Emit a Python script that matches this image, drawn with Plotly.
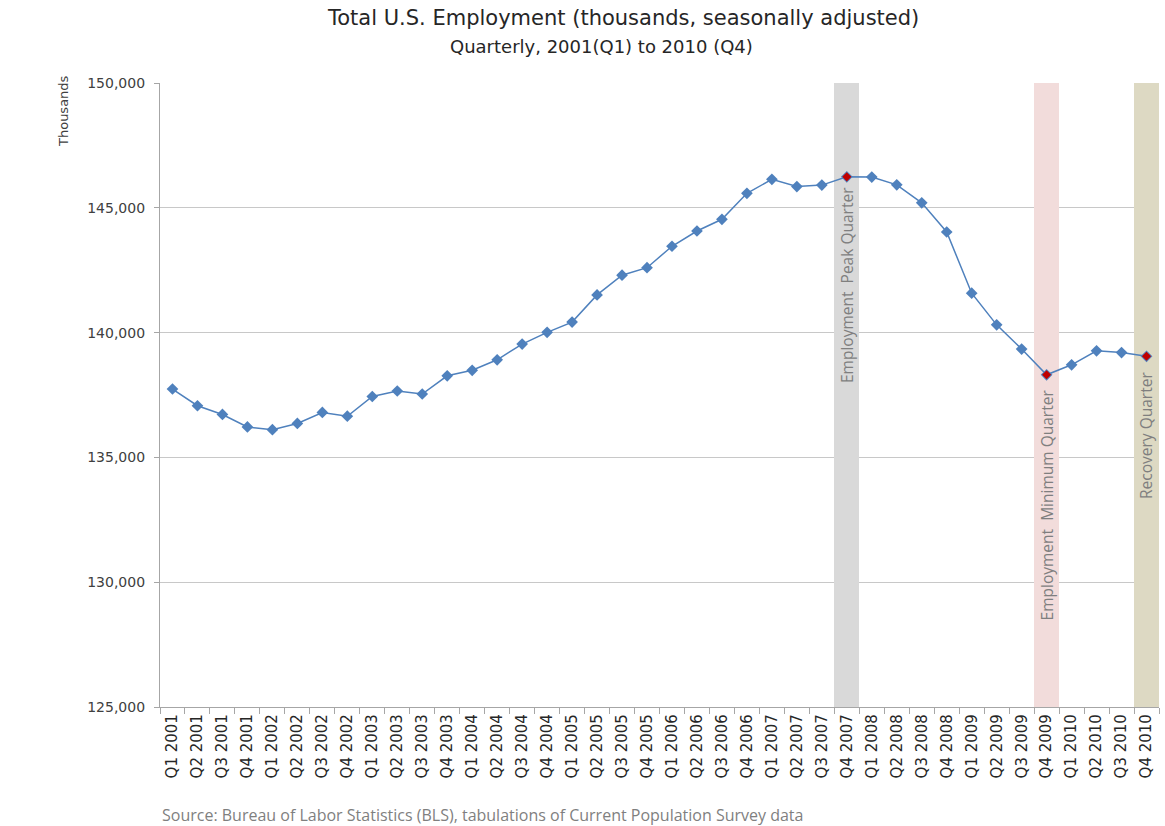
import plotly.graph_objects as go

quarters = [
    "Q1 2001", "Q2 2001", "Q3 2001", "Q4 2001",
    "Q1 2002", "Q2 2002", "Q3 2002", "Q4 2002",
    "Q1 2003", "Q2 2003", "Q3 2003", "Q4 2003",
    "Q1 2004", "Q2 2004", "Q3 2004", "Q4 2004",
    "Q1 2005", "Q2 2005", "Q3 2005", "Q4 2005",
    "Q1 2006", "Q2 2006", "Q3 2006", "Q4 2006",
    "Q1 2007", "Q2 2007", "Q3 2007", "Q4 2007",
    "Q1 2008", "Q2 2008", "Q3 2008", "Q4 2008",
    "Q1 2009", "Q2 2009", "Q3 2009", "Q4 2009",
    "Q1 2010", "Q2 2010", "Q3 2010", "Q4 2010",
]

employment = [
    137740, 137070, 136720, 136220,
    136110, 136360, 136800, 136650,
    137440, 137660, 137540, 138270,
    138490, 138910, 139540, 140010,
    140420, 141510, 142300, 142600,
    143460, 144070, 144540, 145580,
    146140, 145850, 145910, 146240,
    146230, 145920, 145200, 144030,
    141580, 140310, 139340, 138310,
    138710, 139270, 139200, 139050,
]

band_quarters = ["Q4 2007", "Q4 2009", "Q4 2010"]
band_labels = ["Employment  Peak Quarter", "Employment  Minimum Quarter", "Recovery Quarter"]
band_colors = ["#d9d9d9", "#f2dcdb", "#ddd9c3"]
label_centers = [141900, 133100, 135880]

y_ticks = [125000, 130000, 135000, 140000, 145000, 150000]
y_min, y_max = 125000, 150000

fig = go.Figure()

# highlight bands
for q, c in zip(band_quarters, band_colors):
    fig.add_trace(go.Bar(
        x=[q], y=[y_max - y_min], base=[y_min], width=[1.0],
        marker=dict(color=c, line=dict(width=0)),
        hoverinfo="skip", showlegend=False,
    ))

fig.add_trace(go.Scatter(
    x=quarters, y=employment, mode="lines+markers",
    line=dict(color="#4f81bd", width=1.5),
    marker=dict(symbol="diamond", size=9, color="#4f81bd"),
    showlegend=False,
))

red_y = [employment[quarters.index(q)] for q in band_quarters]
fig.add_trace(go.Scatter(
    x=band_quarters, y=red_y, mode="markers",
    marker=dict(symbol="diamond", size=7, color="#c00000"),
    showlegend=False,
))

for q, lab, yc in zip(band_quarters, band_labels, label_centers):
    fig.add_annotation(
        x=q, y=yc, xref="x", yref="y", text=lab, textangle=-90,
        showarrow=False, xanchor="center", yanchor="middle",
        font=dict(family="Open Sans, sans-serif", size=15.5, color="#7f7f7f"),
    )

fig.add_annotation(
    x=0.4635, y=1.0, xref="paper", yref="paper", yshift=65,
    text="Total U.S. Employment (thousands, seasonally adjusted)",
    showarrow=False, xanchor="center", yanchor="middle",
    font=dict(family="DejaVu Sans, sans-serif", size=21, color="#262626"),
)
fig.add_annotation(
    x=0.4415, y=1.0, xref="paper", yref="paper", yshift=37,
    text="Quarterly, 2001(Q1) to 2010 (Q4)",
    showarrow=False, xanchor="center", yanchor="middle",
    font=dict(family="DejaVu Sans, sans-serif", size=18, color="#262626"),
)
fig.add_annotation(
    x=0, y=1.0, xref="paper", yref="paper", xshift=-97, yshift=10,
    text="Thousands", textangle=-90,
    showarrow=False, xanchor="center", yanchor="top",
    font=dict(family="DejaVu Sans, sans-serif", size=13, color="#404040"),
)
fig.add_annotation(
    x=0, y=0, xref="paper", yref="paper", xshift=0, yshift=-108,
    text="Source: Bureau of Labor Statistics (BLS), tabulations of Current Population Survey data",
    showarrow=False, xanchor="left", yanchor="middle",
    font=dict(family="Open Sans, sans-serif", size=16, color="#7f7f7f"),
)

fig.update_layout(
    width=1165, height=826,
    margin=dict(l=160, r=6, t=83, b=119),
    plot_bgcolor="white", paper_bgcolor="white",
    bargap=0, barmode="overlay",
    xaxis=dict(
        type="category", categoryorder="array", categoryarray=quarters,
        tickangle=-90, tickson="boundaries", ticks="outside", ticklen=6,
        tickcolor="#a6a6a6", showline=True, linecolor="#a6a6a6", linewidth=1.2,
        showgrid=False, range=[-0.5, len(quarters) - 0.5],
        tickfont=dict(family="DejaVu Sans, sans-serif", size=15, color="#262626"),
    ),
    yaxis=dict(
        range=[y_min, y_max], tickvals=y_ticks,
        tickformat=",", ticks="outside", ticklen=5, tickcolor="#a6a6a6",
        ticklabelstandoff=6,
        showline=True, linecolor="#a6a6a6", linewidth=1.2,
        showgrid=True, gridcolor="#c8c8c8", gridwidth=1.2, zeroline=False,
        tickfont=dict(family="DejaVu Sans, sans-serif", size=14, color="#404040"),
    ),
)

fig.write_html(
    "out.html",
    config={"displayModeBar": False},
    post_script="document.body.style.margin='0';document.body.style.overflow='hidden';",
)
